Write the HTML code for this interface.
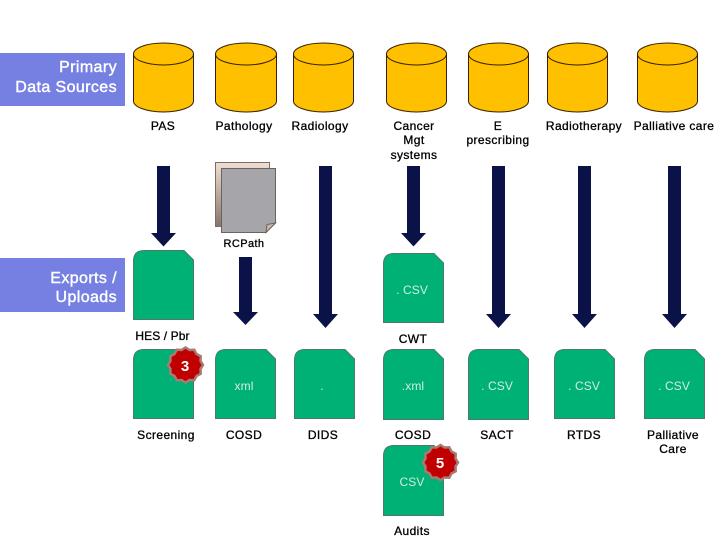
<!DOCTYPE html>
<html>
<head>
<meta charset="utf-8">
<style>
html,body{margin:0;padding:0;background:#fff;}
svg{display:block;}
text{font-family:"Liberation Sans",Arial,sans-serif;}
.l{font-size:12px;fill:#000;text-anchor:middle;letter-spacing:.4px;stroke:#000;stroke-width:.3px;}
.s{font-size:16px;fill:#fff;text-anchor:end;letter-spacing:.4px;stroke:#fff;stroke-width:.4px;}
.g{font-size:12px;fill:#cfeedd;text-anchor:middle;letter-spacing:.1px;}
.n{font-size:15px;fill:#fff;text-anchor:middle;font-weight:bold;}
.c{fill:#ffc000;stroke:#3a2000;stroke-width:1;}
.d{fill:#00b176;stroke:#4f7a66;stroke-width:1;}
.a{fill:#0a1248;}
.b{fill:#c00000;stroke:#a87a72;stroke-width:2.5;}
</style>
</head>
<body>
<svg width="720" height="540" viewBox="0 0 720 540" xmlns="http://www.w3.org/2000/svg">
<defs>
<linearGradient id="sheet" x1="0" y1="0" x2="0" y2="1">
<stop offset="0" stop-color="#f0dfd2"/>
<stop offset="1" stop-color="#85756c"/>
</linearGradient>
</defs>
<rect x="0" y="53" width="125" height="53" fill="#7580e2"/>
<rect x="0" y="258" width="125" height="54" fill="#7580e2"/>
<text class="s" x="117" y="72">Primary</text>
<text class="s" x="117" y="92">Data Sources</text>
<text class="s" x="117" y="283">Exports /</text>
<text class="s" x="117" y="302">Uploads</text>

<g>
<path class="c" d="M133.500 54v47a30 11 0 0 0 60 0V54"/><ellipse class="c" cx="163.500" cy="54" rx="30" ry="11"/>
<path class="c" d="M215.500 54v47a30.500 11 0 0 0 61 0V54"/><ellipse class="c" cx="246" cy="54" rx="30.500" ry="11"/>
<path class="c" d="M293.500 54v47a30 11 0 0 0 60 0V54"/><ellipse class="c" cx="323.500" cy="54" rx="30" ry="11"/>
<path class="c" d="M386.500 54v47a30 11 0 0 0 60 0V54"/><ellipse class="c" cx="416.500" cy="54" rx="30" ry="11"/>
<path class="c" d="M468.500 54v47a30 11 0 0 0 60 0V54"/><ellipse class="c" cx="498.500" cy="54" rx="30" ry="11"/>
<path class="c" d="M547.500 54v47a30 11 0 0 0 60 0V54"/><ellipse class="c" cx="577.500" cy="54" rx="30" ry="11"/>
<path class="c" d="M637.500 54v47a30 11 0 0 0 60 0V54"/><ellipse class="c" cx="667.500" cy="54" rx="30" ry="11"/>
</g>

<text class="l" x="163" y="130">PAS</text>
<text class="l" x="244" y="130">Pathology</text>
<text class="l" x="320" y="130">Radiology</text>
<text class="l" x="414" y="130">Cancer</text>
<text class="l" x="414" y="144">Mgt</text>
<text class="l" x="414" y="159">systems</text>
<text class="l" x="498" y="130">E</text>
<text class="l" x="498" y="144">prescribing</text>
<text class="l" x="584" y="130">Radiotherapy</text>
<text class="l" x="674" y="130">Palliative care</text>

<path d="M215.500 162.500H269.500V226.500H215.500Z" fill="url(#sheet)" stroke="#806c66"/>
<path d="M221.500 168.500H275.500V223L266 232.500H221.500Z" fill="#a6a6aa" stroke="#6e625e"/>
<path d="M266 232.500L267 224.500L275.500 223Z" fill="#c8b8a8" stroke="#6e625e"/>
<text class="l" x="244" y="247" style="font-size:11px">RCPath</text>

<g class="a">
<path d="M157 166h13v67h6l-12.500 13.500L151 233h6z"/>
<path d="M239 257h13v55h6l-12.500 13L233 312h6z"/>
<path d="M319 166h13v148h6l-12.500 14L313 314h6z"/>
<path d="M407 166h13v67h6l-12.500 13.500L401 233h6z"/>
<path d="M492 166h13v148h6l-12.500 14L486 314h6z"/>
<path d="M578 166h13v148h6l-12.500 14L572 314h6z"/>
<path d="M668 166h13v148h6l-12.500 14L662 314h6z"/>
</g>

<g>
<path class="d" d="M133.500 319.500V261Q133.500 250.500 144 250.500H184L193.500 260V319.500Z"/>
<path class="d" d="M383.500 322.500V264Q383.500 253.500 394 253.500H434L443.500 263V322.500Z"/>
<path class="d" d="M133.500 418.500V360Q133.500 349.500 144 349.500H184L193.500 359V418.500Z"/>
<path class="d" d="M215.500 418.500V360Q215.500 349.500 226 349.500H266L275.500 359V418.500Z"/>
<path class="d" d="M294.500 418.500V360Q294.500 349.500 305 349.500H345L354.500 359V418.500Z"/>
<path class="d" d="M383.500 419.500V360Q383.500 349.500 394 349.500H434L443.500 359V419.500Z"/>
<path class="d" d="M468.500 419.500V360Q468.500 349.500 479 349.500H519L528.500 359V419.500Z"/>
<path class="d" d="M554.500 418.500V360Q554.500 349.500 565 349.500H605L614.500 359V418.500Z"/>
<path class="d" d="M644.500 418.500V360Q644.500 349.500 655 349.500H695L704.500 359V418.500Z"/>
<path class="d" d="M383.500 515.500V456Q383.500 445.500 394 445.500H434L443.500 455V515.500Z"/>
</g>

<text class="g" x="412" y="294">. CSV</text>
<text class="g" x="244" y="390">xml</text>
<text class="g" x="322" y="390">.</text>
<text class="g" x="413" y="390">.xml</text>
<text class="g" x="497" y="390">. CSV</text>
<text class="g" x="584" y="390">. CSV</text>
<text class="g" x="674" y="390">. CSV</text>
<text class="g" x="412" y="486">CSV</text>

<text class="l" x="162.500" y="340" style="letter-spacing:.1px">HES / Pbr</text>
<text class="l" x="413" y="343">CWT</text>
<text class="l" x="166" y="439">Screening</text>
<text class="l" x="244" y="439">COSD</text>
<text class="l" x="323" y="439">DIDS</text>
<text class="l" x="413" y="439">COSD</text>
<text class="l" x="497" y="439">SACT</text>
<text class="l" x="584" y="439">RTDS</text>
<text class="l" x="673" y="439">Palliative</text>
<text class="l" x="673" y="453">Care</text>
<text class="l" x="412" y="535">Audits</text>

<polygon class="b" transform="translate(185.500 365)" points="0,-17.500 4,-15 8.750,-15.200 11,-11 15.200,-8.750 15,-4 17.500,0 15,4 15.200,8.750 11,11 8.750,15.200 4,15 0,17.500 -4,15 -8.750,15.200 -11,11 -15.200,8.750 -15,4 -17.500,0 -15,-4 -15.200,-8.750 -11,-11 -8.750,-15.200 -4,-15"/>
<text class="n" x="185" y="371">3</text>
<polygon class="b" transform="translate(440.500 462.500)" points="0,-17.500 4,-15 8.750,-15.200 11,-11 15.200,-8.750 15,-4 17.500,0 15,4 15.200,8.750 11,11 8.750,15.200 4,15 0,17.500 -4,15 -8.750,15.200 -11,11 -15.200,8.750 -15,4 -17.500,0 -15,-4 -15.200,-8.750 -11,-11 -8.750,-15.200 -4,-15"/>
<text class="n" x="440" y="468">5</text>
</svg>
</body>
</html>
